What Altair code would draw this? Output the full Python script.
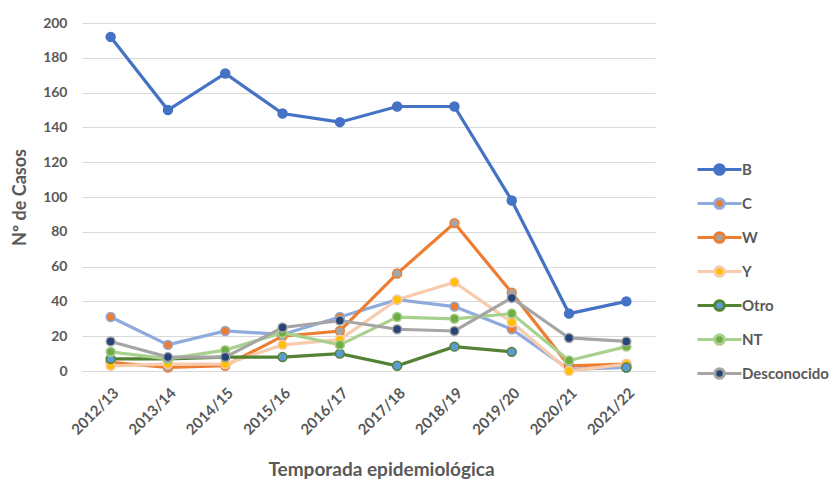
import altair as alt
import pandas as pd

seasons = ["2012/13", "2013/14", "2014/15", "2015/16", "2016/17",
           "2017/18", "2018/19", "2019/20", "2020/21", "2021/22"]
series_names = ["B", "C", "W", "Y", "Otro", "NT", "Desconocido"]

b_vals = [192, 150, 171, 148, 143, 152, 152, 98, 33, 40]
c_vals = [31, 15, 23, 21, 31, 41, 37, 24, 1, 2]
w_vals = [5, 2, 3, 20, 23, 56, 85, 45, 3, 4]
y_vals = [3, 4, 4, 15, 18, 41, 51, 28, 0, 4]
otro_vals = [7, 7, 8, 8, 10, 3, 14, 11, None, 2]
nt_vals = [11, 7, 12, 22, 15, 31, 30, 33, 6, 14]
desc_vals = [17, 8, 8, 25, 29, 24, 23, 42, 19, 17]

line_colors = ["#4472C4", "#8FAADC", "#ED7D31", "#F8CBAD", "#548235", "#A9D18E", "#A5A5A5"]
marker_colors = ["#4472C4", "#ED7D31", "#A5A5A5", "#FFC000", "#5B9BD5", "#70AD47", "#264478"]

all_vals = [b_vals, c_vals, w_vals, y_vals, otro_vals, nt_vals, desc_vals]
rows = []
for name, vals in zip(series_names, all_vals):
    for s, v in zip(seasons, vals):
        rows.append({"Temporada": s, "Serie": name, "Casos": v})
df = pd.DataFrame(rows)

FONT = "Lato"
GREY = "#595959"

sym_path = ("M-2.2,0H-0.48M0.48,0H2.2"
            "M-0.48,0A0.48,0.48 0 1,0 0.48,0A0.48,0.48 0 1,0 -0.48,0Z")

legend_cfg = dict(
    title=None, orient="none", legendX=626, legendY=135,
    symbolType=sym_path, symbolSize=400, symbolStrokeWidth=3,
    symbolOpacity=1, labelOffset=11, rowPadding=11, padding=0,
    labelFont=FONT, labelFontSize=15, labelFontWeight="bold", labelColor=GREY,
)

x_enc = alt.X(
    "Temporada:N", sort=seasons, scale=alt.Scale(padding=0.5),
    axis=alt.Axis(
        title="Temporada epidemiológica", labelAngle=-45, labelFont=FONT,
        labelFontSize=15, labelFontWeight="bold", labelColor=GREY,
        ticks=False, domainColor="#D9D9D9", domainWidth=1, grid=False,
        labelPadding=14, titleFont=FONT, titleFontSize=19, titleFontWeight="bold",
        titleColor=GREY, titleX=299, titleY=104, titleBaseline="alphabetic",
    ),
)
y_enc = alt.Y(
    "Casos:Q", scale=alt.Scale(domain=[0, 200], nice=False),
    axis=alt.Axis(
        title="Nº de Casos", values=list(range(0, 201, 20)), grid=True,
        gridColor="#D9D9D9", gridWidth=1, domain=False, ticks=False,
        labelPadding=15, labelFont=FONT, labelFontSize=14, labelFontWeight="bold",
        labelColor=GREY, titleFont=FONT, titleFontSize=18, titleFontWeight="bold",
        titleColor=GREY, titleX=-62, titleY=174, titleAngle=-90,
        titleAlign="center", titleBaseline="middle",
    ),
)

stroke_enc = alt.Stroke(
    "Serie:N", sort=series_names,
    scale=alt.Scale(domain=series_names, range=line_colors),
    legend=alt.Legend(**legend_cfg),
)
fill_enc = alt.Fill(
    "Serie:N", sort=series_names,
    scale=alt.Scale(domain=series_names, range=marker_colors),
    legend=alt.Legend(**legend_cfg),
)

lines = alt.Chart(df).mark_line(
    strokeWidth=3.2, invalid="break-paths-filter-domains"
).encode(x=x_enc, y=y_enc, stroke=stroke_enc, detail="Serie:N")

points = alt.Chart(df).mark_point(
    filled=True, size=80, strokeWidth=1.5, opacity=1
).encode(x=x_enc, y=y_enc, stroke=stroke_enc, fill=fill_enc)

chart = alt.layer(lines, points).properties(
    width=573, height=348,
    autosize=alt.AutoSizeParams(type="none"),
    padding={"left": 74, "top": 15, "right": 177, "bottom": 109},
).configure_view(stroke=None)

chart.save("out.html", embed_options={"renderer": "svg", "actions": False})
